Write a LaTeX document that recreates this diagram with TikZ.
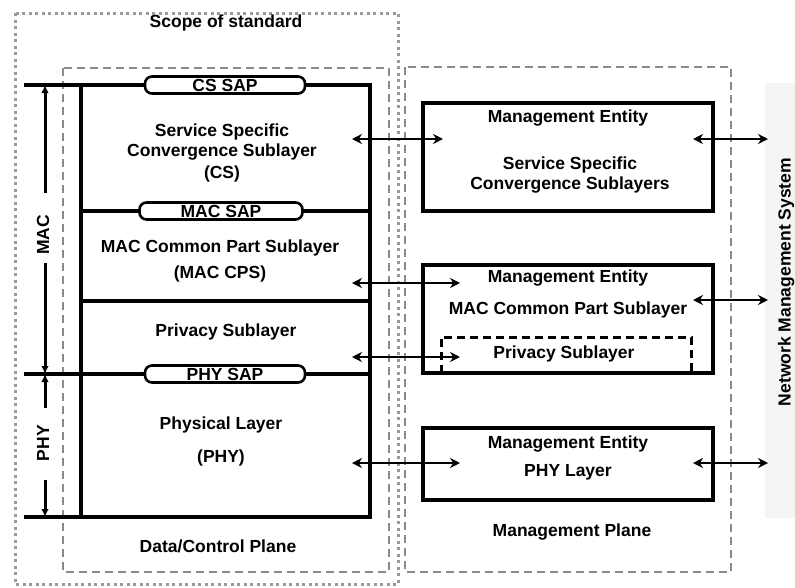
\documentclass[tikz,border=0pt]{standalone}
\usepackage{fontspec}
\setmainfont{Liberation Sans}
\usetikzlibrary{arrows.meta}
\definecolor{planegray}{HTML}{8A8A8A}
\definecolor{scopegray}{HTML}{9A9A9A}
\definecolor{nmsfill}{HTML}{F5F5F5}
\begin{document}
\begin{tikzpicture}[x=1pt,y=-1pt,
  lbl/.style={font=\fontsize{17.5}{20}\selectfont\bfseries, inner sep=0pt, align=center},
  layer/.style={line width=3.2pt, line cap=rect},
  sap/.style={draw, line width=2.6pt, fill=white, rounded corners=7pt,
    minimum width=160pt, minimum height=17pt, inner sep=0pt,
    font=\fontsize{17.5}{20}\selectfont\bfseries},
  mebox/.style={draw, line width=3.2pt, inner sep=0pt},
  plane/.style={draw=planegray, line width=2.9pt, dash pattern=on 8pt off 5pt},
  scopebox/.style={draw=scopegray, line width=3pt, dash pattern=on 3pt off 3.5pt},
  privdash/.style={line width=3pt, dash pattern=on 8pt off 5pt},
  biarrow/.style={line width=2.8pt,
    {Stealth[length=10pt,width=10pt]}-{Stealth[length=10pt,width=10pt]}},
  dimtip/.style={line width=3pt, -{Latex[length=8pt,width=7.5pt]}}
]
\useasboundingbox (0,0) rectangle (795,587);

% network management system panel
\fill[nmsfill] (765,83) rectangle (800,518);
\node[lbl, rotate=90, anchor=base] (nms) at (790.5,282) {Network Management System};

% scope of standard and the two planes
\draw[scopebox] (15,13) rectangle (398,584);
\node[lbl] (scope) at (226,23) {Scope of standard};
\draw[plane] (63,68) rectangle (389,572);
\draw[plane] (405,67) rectangle (731,572);
\node[lbl] (dcp) at (218,546) {Data/Control Plane};
\node[lbl] (mp) at (572,532) {Management Plane};

% layer stack of the data/control plane
\coordinate (topL) at (26,85);  \coordinate (topR) at (370,85);
\coordinate (colT) at (81,85);  \coordinate (colB) at (81,517);
\coordinate (macL) at (81,211); \coordinate (macR) at (370,211);
\coordinate (prvL) at (81,301); \coordinate (prvR) at (370,301);
\coordinate (phyL) at (26,374); \coordinate (phyR) at (370,374);
\coordinate (botL) at (26,517); \coordinate (botR) at (370,517);
\draw[layer] (topL) -- (topR) -- (botR) -- (botL);
\draw[layer] (colT) -- (colB);
\draw[layer] (macL) -- (macR);
\draw[layer] (prvL) -- (prvR);
\draw[layer] (phyL) -- (phyR);

\node[sap] (cssap) at (225,85) {CS SAP};
\node[sap, minimum width=163pt] (macsap) at (221,211) {MAC SAP};
\node[sap] (physap) at (225,374) {PHY SAP};

\node[lbl] (cs) at (222,153) {Service Specific\\Convergence Sublayer\\[2pt](CS)};
\node[lbl] (cps) at (220,261) {MAC Common Part Sublayer\\[6pt](MAC CPS)};
\node[lbl] (priv) at (226,332) {Privacy Sublayer};
\node[lbl] (phy) at (221,441) {Physical Layer\\[13pt](PHY)};

% MAC and PHY extents
\node[lbl, rotate=90] (maclbl) at (43,235) {MAC};
\node[lbl, rotate=90] (phylbl) at (43,443) {PHY};
\coordinate (macT) at (45,85);  \coordinate (macA) at (45,193);
\coordinate (macB) at (45,263); \coordinate (macE) at (45,374);
\coordinate (phyT) at (45,374); \coordinate (phyA) at (45,408);
\coordinate (phyB) at (45,480); \coordinate (phyE) at (45,517);
\draw[dimtip] (macA) -- (macT);
\draw[dimtip] (macB) -- (macE);
\draw[dimtip] (phyA) -- (phyT);
\draw[dimtip] (phyB) -- (phyE);

% management entities
\node[mebox, minimum width=290pt, minimum height=108pt] (mecs) at (568,157) {};
\node[mebox, minimum width=290pt, minimum height=108pt] (mecps) at (568,319) {};
\node[mebox, minimum width=290pt, minimum height=72pt] (mephy) at (568,464) {};
\draw[privdash] (441,373) -- (441,337) -- (691,337) -- (691,373);

\node[lbl] (me1) at (568,118) {Management Entity};
\node[lbl] (me1b) at (570,175) {Service Specific\\Convergence Sublayers};
\node[lbl] (me2) at (568,278) {Management Entity};
\node[lbl] (me2b) at (568,310) {MAC Common Part Sublayer};
\node[lbl] (me2c) at (564,354) {Privacy Sublayer};
\node[lbl] (me3) at (568,444) {Management Entity};
\node[lbl] (me3b) at (568,472) {PHY Layer};

% service access between the planes
\coordinate (s1) at (352,139); \coordinate (m1) at (443,139);
\coordinate (s2) at (352,283); \coordinate (m2) at (460,283);
\coordinate (s3) at (352,357); \coordinate (m3) at (460,357);
\coordinate (s4) at (352,463); \coordinate (m4) at (460,463);
\draw[biarrow] (s1) -- (m1);
\draw[biarrow] (s2) -- (m2);
\draw[biarrow] (s3) -- (m3);
\draw[biarrow] (s4) -- (m4);

% links to the network management system
\coordinate (e1) at (693,139); \coordinate (n1) at (768,139);
\coordinate (e2) at (693,300); \coordinate (n2) at (768,300);
\coordinate (e3) at (693,463); \coordinate (n3) at (768,463);
\draw[biarrow] (e1) -- (n1);
\draw[biarrow] (e2) -- (n2);
\draw[biarrow] (e3) -- (n3);
\end{tikzpicture}
\end{document}
